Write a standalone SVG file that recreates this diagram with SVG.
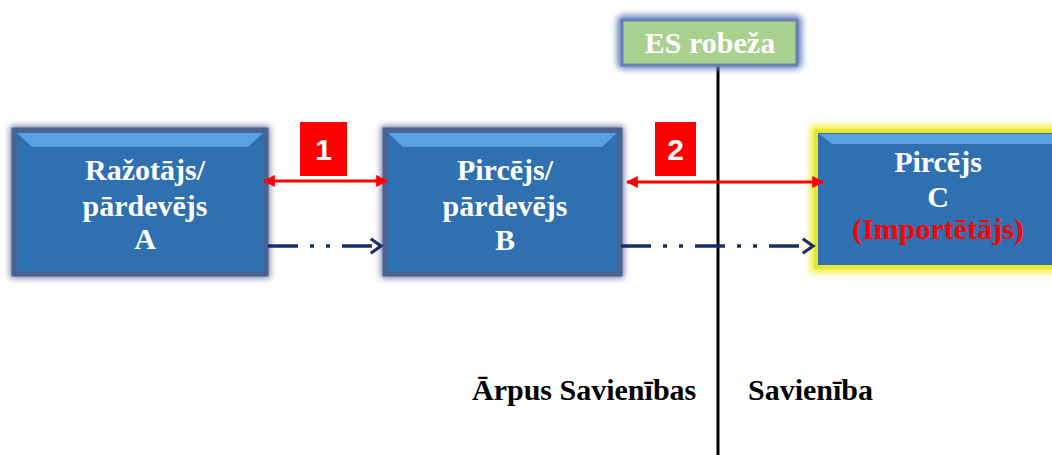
<svg xmlns="http://www.w3.org/2000/svg" width="1052" height="455" viewBox="0 0 1052 455">
<defs>
<style>
.box{fill:#2F70B0;stroke:#4C6392;stroke-width:5}
.bevel{fill:#5AA0E0}
.bt{font-family:"Liberation Serif",serif;font-weight:bold;font-size:30px;fill:#fff;text-anchor:middle}
.lbl{font-family:"Liberation Sans",sans-serif;font-weight:bold;font-size:30px;fill:#fff;text-anchor:middle}
.foot{font-family:"Liberation Serif",serif;font-weight:bold;font-size:30px;fill:#000}
.red{stroke:#FF0000;stroke-width:3;fill:none}
.nav{stroke:#1B2F66;stroke-width:3.5;fill:none;stroke-dasharray:30 12 4 12 4 12}
</style>
<filter id="sh" x="-10%" y="-10%" width="120%" height="120%"><feGaussianBlur stdDeviation="3"/></filter>
<marker id="ra" viewBox="0 0 10 10" refX="9" refY="5" markerWidth="4" markerHeight="4" orient="auto-start-reverse"><path d="M0,0 L10,5 L0,10 z" fill="#FF0000"/></marker>
<marker id="na" viewBox="0 0 12 12" refX="10" refY="6" markerWidth="5" markerHeight="5" markerUnits="strokeWidth" orient="auto"><path d="M3,1 L10,6 L3,11" fill="none" stroke="#1B2F66" stroke-width="2.2"/></marker>
</defs>
<rect width="1052" height="455" fill="#fff"/>
<line x1="718" y1="66" x2="718" y2="455" stroke="#000" stroke-width="3"/>
<g id="es">
<rect x="617" y="15" width="185" height="54" rx="6" fill="#6E86C0" filter="url(#sh)"/>
<rect x="622" y="20" width="175" height="45" fill="#A9D08E" stroke="#6A7FB8" stroke-width="3"/>
<text x="710" y="53" class="bt" font-size="28">ES robeža</text>
</g>
<g id="boxA">
<rect x="10" y="126" width="260" height="152" fill="#6E7FA8" filter="url(#sh)"/>
<rect x="14" y="130" width="252" height="144" class="box"/>
<path d="M17,133 L263,133 L248,147 L32,147 z" class="bevel"/>
<text x="145" y="180" class="bt">Ražotājs/</text>
<text x="145" y="216" class="bt">pārdevējs</text>
<text x="145" y="249" class="bt">A</text>
</g>
<g id="boxB">
<rect x="381" y="126" width="243" height="152" fill="#6E7FA8" filter="url(#sh)"/>
<rect x="385" y="130" width="235" height="144" class="box"/>
<path d="M388,133 L617,133 L602,147 L403,147 z" class="bevel"/>
<text x="505" y="180" class="bt">Pircējs/</text>
<text x="505" y="216" class="bt">pārdevējs</text>
<text x="505" y="250" class="bt">B</text>
</g>
<g id="boxC">
<rect x="810" y="125" width="250" height="148" fill="#F2F04A" filter="url(#sh)"/>
<rect x="816" y="131" width="245" height="136" fill="#2F70B0" stroke="#E6E630" stroke-width="4"/>
<path d="M819,134 L1052,134 L1052,144 L832,144 z" class="bevel"/>
<text x="938" y="172" class="bt">Pircējs</text>
<text x="938" y="207" class="bt">C</text>
<text x="938" y="239" class="bt" fill="#FF0000" style="fill:#FF0000">(Importētājs)</text>
</g>
<g id="label1">
<rect x="300" y="122" width="47" height="54" fill="#FF0000"/>
<text x="323.5" y="160" class="lbl">1</text>
</g>
<g id="label2">
<rect x="655" y="122" width="41" height="54" fill="#FF0000"/>
<text x="675.5" y="160" class="lbl">2</text>
</g>
<g id="connectors">
<line x1="264" y1="181" x2="387" y2="181" class="red" marker-start="url(#ra)" marker-end="url(#ra)"/>
<line x1="627" y1="182" x2="823" y2="182" class="red" marker-start="url(#ra)" marker-end="url(#ra)"/>
<line x1="268" y1="246" x2="381" y2="246" class="nav" marker-end="url(#na)"/>
<line x1="621" y1="246" x2="813" y2="246" class="nav" marker-end="url(#na)"/>
</g>
<text x="472" y="400" class="foot">Ārpus Savienības</text>
<text x="748" y="400" class="foot">Savienība</text>
</svg>
